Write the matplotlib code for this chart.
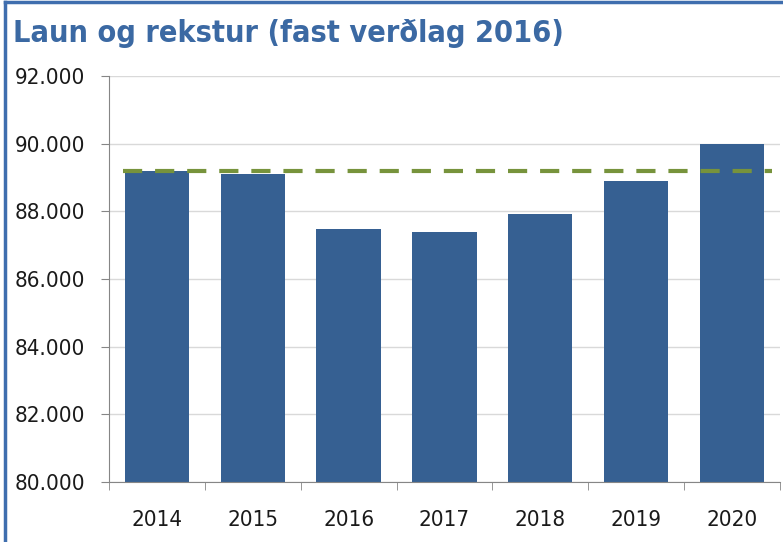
import numpy as np
import matplotlib.pyplot as plt
from matplotlib.ticker import FuncFormatter

years = ['2014', '2015', '2016', '2017', '2018', '2019', '2020']
laun = [89.19, 89.10, 87.47, 87.39, 87.92, 88.90, 89.99]
vidmid = 89.2  # dashed reference line
yticks = [80, 82, 84, 86, 88, 90, 92]

plt.rcParams['font.family'] = ['DejaVu Sans']
plt.rcParams['font.stretch'] = 'condensed'

fig = plt.figure(figsize=(7.83, 5.42), dpi=100)
ax = fig.add_axes([0.1392, 0.1107, 0.8568, 0.7491])

x = np.arange(len(years))
ax.bar(x, laun, width=0.67, color='#366092', zorder=2)
ax.hlines(vidmid, -0.35, 6.42, colors='#77933C', linestyles=(0, (4.6, 3.1)), lw=3, zorder=3)

ax.set_ylim(80, 92)
ax.set_xlim(-0.5, len(years) - 0.5)
ax.set_yticks(yticks)
ax.yaxis.set_major_formatter(FuncFormatter(lambda v, p: '{:.3f}'.format(v)))
ax.grid(axis='y', color='#D9D9D9', lw=1, zorder=0)
ax.set_axisbelow(True)

ax.set_xticks(x)
ax.set_xticklabels(years)
ax.set_xticks(np.arange(-0.5, len(years)), minor=True)
ax.tick_params(axis='x', which='major', length=0, pad=20, labelsize=16, colors='#1a1a1a')
ax.tick_params(axis='x', which='minor', length=6, color='#868686')
ax.tick_params(axis='y', length=6, color='#868686', labelsize=16, labelcolor='#1a1a1a', pad=11)

for s in ['top', 'right']:
    ax.spines[s].set_visible(False)
for s in ['left', 'bottom']:
    ax.spines[s].set_color('#868686')

fig.text(0.016, 0.938, 'Laun og rekstur (fast verðlag 2016)', fontsize=22, fontweight='bold',
         color='#3B69A3', va='center', ha='left')

# blue frame (only left and top edges visible)
fig.add_artist(plt.Line2D([0.006, 0.006], [0, 0.997], color='#3F6EAE', lw=2.5, transform=fig.transFigure))
fig.add_artist(plt.Line2D([0.006, 1.0], [0.997, 0.997], color='#3F6EAE', lw=2.5, transform=fig.transFigure))

fig.savefig('out.png', dpi=100)
